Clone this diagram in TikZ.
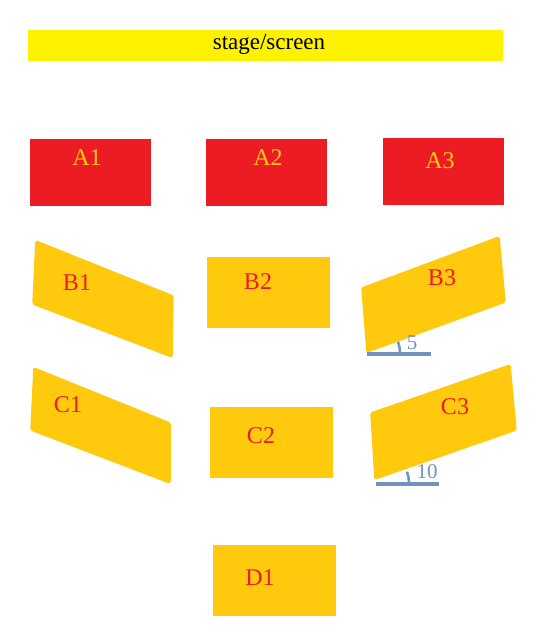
\documentclass[tikz,border=0pt]{standalone}
\usepackage{fontspec}
\setmainfont{Liberation Serif}
\definecolor{stageyellow}{HTML}{FFF200}
\definecolor{seatred}{HTML}{ED1C24}
\definecolor{seatgold}{HTML}{FFC90E}
\definecolor{markblue}{HTML}{7092BE}
\tikzset{
  redbox/.style={fill=seatred, draw=none, inner sep=0pt, anchor=north west},
  goldbox/.style={fill=seatgold, draw=none, inner sep=0pt, anchor=north west},
  goldshape/.style={fill=seatgold, draw=seatgold, line width=1.5pt, rounded corners=1.5pt, line join=round},
  labA/.style={text=seatgold, font=\fontsize{24}{26}\selectfont, inner sep=0pt},
  labB/.style={text=seatred, font=\fontsize{24}{26}\selectfont, inner sep=0pt},
  angnum/.style={text=markblue, font=\fontsize{21}{23}\selectfont, inner sep=0pt},
  baseline line/.style={draw=markblue, line width=4pt},
  angarc/.style={draw=markblue, line width=2.5pt}
}
\begin{document}
\begin{tikzpicture}[x=1pt,y=-1pt]
\useasboundingbox (0,0) rectangle (544,633);
% stage
\node[fill=stageyellow, inner sep=0pt, minimum width=475pt, minimum height=31pt, anchor=north west,
      font=\fontsize{23}{25}\selectfont] (stage) at (28,30) {};
\node[font=\fontsize{23}{25}\selectfont, inner sep=0pt] (stagelabel) at (269,44) {stage/screen};
% row A
\node[redbox, minimum width=121pt, minimum height=67pt] (A1box) at (30,139) {};
\node[redbox, minimum width=121pt, minimum height=67pt] (A2box) at (206,139) {};
\node[redbox, minimum width=121pt, minimum height=67pt] (A3box) at (383,138) {};
\node[labA] (A1) at (87,158) {A1};
\node[labA] (A2) at (268,158) {A2};
\node[labA] (A3) at (440,161) {A3};
% row B
\coordinate (B1a) at (36,241);
\coordinate (B1b) at (173,296);
\coordinate (B1c) at (172,357);
\coordinate (B1d) at (33,304);
\fill[goldshape] (B1a) -- (B1b) -- (B1c) -- (B1d) -- cycle;
\node[labB] (B1) at (77,283) {B1};
\node[goldbox, minimum width=123pt, minimum height=71pt] (B2box) at (207,257) {};
\node[labB] (B2) at (258,282) {B2};
\coordinate (B3a) at (362,288);
\coordinate (B3b) at (499,237);
\coordinate (B3c) at (505,302);
\coordinate (B3d) at (367,352);
\fill[goldshape] (B3a) -- (B3b) -- (B3c) -- (B3d) -- cycle;
\node[labB] (B3) at (442,278) {B3};
% angle mark B3
\coordinate (B3m0) at (367,354);
\coordinate (B3m1) at (431,354);
\draw[baseline line] (B3m0) -- (B3m1);
\draw[angarc] (400,353) arc[start angle=0, end angle=-20, radius=33];
\node[angnum] (ang5) at (412,343) {5};
% row C
\coordinate (C1a) at (34,368);
\coordinate (C1b) at (170,423);
\coordinate (C1c) at (170,483);
\coordinate (C1d) at (31,430);
\fill[goldshape] (C1a) -- (C1b) -- (C1c) -- (C1d) -- cycle;
\node[labB] (C1) at (68,405) {C1};
\node[goldbox, minimum width=123pt, minimum height=71pt] (C2box) at (210,407) {};
\node[labB] (C2) at (261,436) {C2};
\coordinate (C3a) at (371,413);
\coordinate (C3b) at (510,365);
\coordinate (C3c) at (516,430);
\coordinate (C3d) at (375,479);
\fill[goldshape] (C3a) -- (C3b) -- (C3c) -- (C3d) -- cycle;
\node[labB] (C3) at (455,407) {C3};
% angle mark C3
\coordinate (C3m0) at (376,484);
\coordinate (C3m1) at (439,484);
\draw[baseline line] (C3m0) -- (C3m1);
\draw[angarc] (409,483) arc[start angle=0, end angle=-20, radius=33];
\node[angnum] (ang10) at (427,472) {10};
% row D
\node[goldbox, minimum width=123pt, minimum height=71pt] (D1box) at (213,545) {};
\node[labB] (D1) at (260,578) {D1};
\end{tikzpicture}
\end{document}
